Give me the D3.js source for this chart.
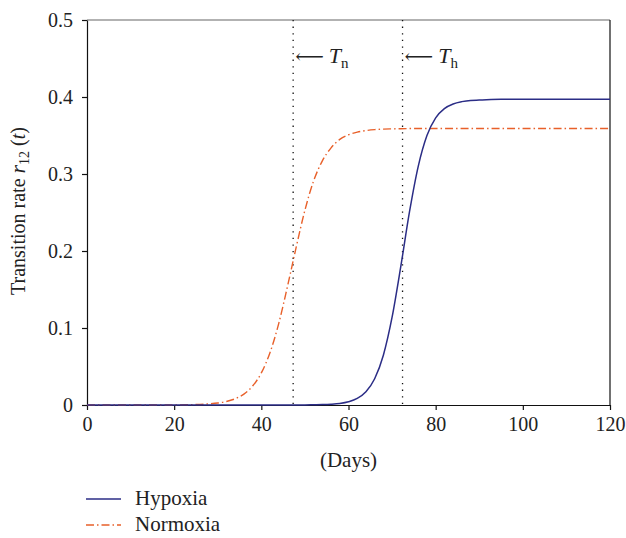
<!DOCTYPE html>
<html>
<head>
<meta charset="utf-8">
<script src="https://cdn.jsdelivr.net/npm/d3@7"></script>
<style>
  body { margin: 0; background: #fff; }
  text { font-family: "Liberation Serif", "DejaVu Serif", serif; fill: #222; }
</style>
</head>
<body>
<div id="chart"></div>
<script>
// days sampled along the curves
const days = [0, 10, 20, 24, 28, 30, 32, 34, 36, 38, 40, 42, 44, 46, 48, 50, 52, 54, 56, 58,
  60, 62, 64, 66, 68, 70, 72, 74, 76, 78, 80, 82, 84, 86, 88, 90, 95, 100, 110, 120];
const hypoxia = [0, 0, 0, 0, 0, 0, 0, 0, 0, 0, 0, 0, 0, 0, 0.0001, 0.0001, 0.0003, 0.0005, 0.001, 0.002,
  0.0042, 0.0085, 0.0172, 0.0341, 0.0647, 0.114, 0.18, 0.251, 0.31, 0.35, 0.373, 0.385, 0.391, 0.394, 0.3956, 0.396, 0.397, 0.397, 0.397, 0.397];
const normoxia = [0, 0, 0.0001, 0.0005, 0.0015, 0.0026, 0.0046, 0.0081, 0.0142, 0.0246, 0.0417, 0.0682, 0.106, 0.154, 0.205, 0.253, 0.291, 0.317, 0.334, 0.345,
  0.351, 0.3544, 0.3564, 0.3576, 0.3583, 0.3586, 0.3588, 0.359, 0.359, 0.359, 0.359, 0.359, 0.359, 0.359, 0.359, 0.359, 0.359, 0.359, 0.359, 0.359];
const xTicks = [0, 20, 40, 60, 80, 100, 120];
const yTicks = [0, 0.1, 0.2, 0.3, 0.4, 0.5];
const markers = [{ day: 47.3, label: "n" }, { day: 72.4, label: "h" }];

const width = 626, height = 538;
const margin = { top: 20, right: 16, bottom: 133, left: 87 };
const innerWidth = width - margin.left - margin.right;
const innerHeight = height - margin.top - margin.bottom;

const svg = d3.select("#chart").append("svg")
  .attr("width", width).attr("height", height);
const g = svg.append("g")
  .attr("transform", `translate(${margin.left},${margin.top})`);

const x = d3.scaleLinear().domain([0, 120]).range([0, innerWidth]);
const y = d3.scaleLinear().domain([0, 0.5]).range([innerHeight, 0]);

// frame top/right
g.append("line").attr("x1", 0).attr("x2", innerWidth).attr("y1", 0).attr("y2", 0)
  .attr("stroke", "#666").attr("stroke-width", 1.2);
g.append("line").attr("x1", innerWidth).attr("x2", innerWidth).attr("y1", 0).attr("y2", innerHeight)
  .attr("stroke", "#111").attr("stroke-width", 1.2);

// axes
const xAxis = g.append("g").attr("transform", `translate(0,${innerHeight})`)
  .call(d3.axisBottom(x).tickValues(xTicks).tickSize(5).tickPadding(7).tickSizeOuter(0));
const yAxis = g.append("g")
  .call(d3.axisLeft(y).tickValues(yTicks).tickSize(5).tickPadding(9).tickSizeOuter(0)
    .tickFormat((d) => (d === 0 ? "0" : d3.format(".1f")(d))));
[xAxis, yAxis].forEach((a) => {
  a.attr("font-family", null).attr("font-size", null);
  a.selectAll("path, line").attr("stroke", "#111").attr("stroke-width", 1.2);
  a.selectAll("text").attr("fill", "#222")
    .style("font-family", "'Liberation Serif', serif").style("font-size", "20px");
});

// marker lines
markers.forEach((m) => {
  g.append("line")
    .attr("x1", x(m.day)).attr("x2", x(m.day)).attr("y1", 0).attr("y2", innerHeight)
    .attr("stroke", "#111").attr("stroke-width", 1.3).attr("stroke-dasharray", "1.3,5.3");
  const t = g.append("text").attr("x", x(m.day) + 2).attr("y", 43).style("font-size", "22px");
  t.append("tspan").style("font-family", "'DejaVu Serif', serif").style("font-size", "20px").text("\u27F5");
  t.append("tspan").attr("dx", 5).attr("font-style", "italic").text("T");
  t.append("tspan").style("font-size", "15px").attr("dy", 5).text(m.label);
});

// curves
const line = (vals) => d3.line()
  .x((d, i) => x(days[i])).y((d) => y(d))
  .curve(d3.curveMonotoneX)(vals);

g.append("path").attr("d", line(normoxia)).attr("fill", "none")
  .attr("stroke", "#e8602a").attr("stroke-width", 1.4).attr("stroke-dasharray", "8,3,1.5,3");
g.append("path").attr("d", line(hypoxia)).attr("fill", "none")
  .attr("stroke", "#2b2d86").attr("stroke-width", 1.5);

// axis titles
svg.append("text").attr("x", margin.left + x(60)).attr("y", 467)
  .attr("text-anchor", "middle").style("font-size", "21px").text("(Days)");
const yt = svg.append("text")
  .attr("transform", `translate(25,211) rotate(-90)`)
  .attr("text-anchor", "middle").style("font-size", "20px");
yt.append("tspan").text("Transition rate ");
yt.append("tspan").attr("font-style", "italic").style("font-size", "22px").text("r");
yt.append("tspan").style("font-size", "14px").attr("dy", 4).text("12");
yt.append("tspan").attr("dy", -4).text(" (");
yt.append("tspan").attr("font-style", "italic").text("t");
yt.append("tspan").text(")");

// legend
const legend = [
  { name: "Hypoxia", color: "#2b2d86", dash: null },
  { name: "Normoxia", color: "#e8602a", dash: "8,3,1.5,3" }
];
legend.forEach((l, i) => {
  const ly = 499 + i * 26;
  svg.append("line").attr("x1", 86).attr("x2", 121).attr("y1", ly).attr("y2", ly)
    .attr("stroke", l.color).attr("stroke-width", 1.4)
    .attr("stroke-dasharray", l.dash);
  svg.append("text").attr("x", 135).attr("y", ly + 6).style("font-size", "21px").text(l.name);
});
</script>
</body>
</html>
